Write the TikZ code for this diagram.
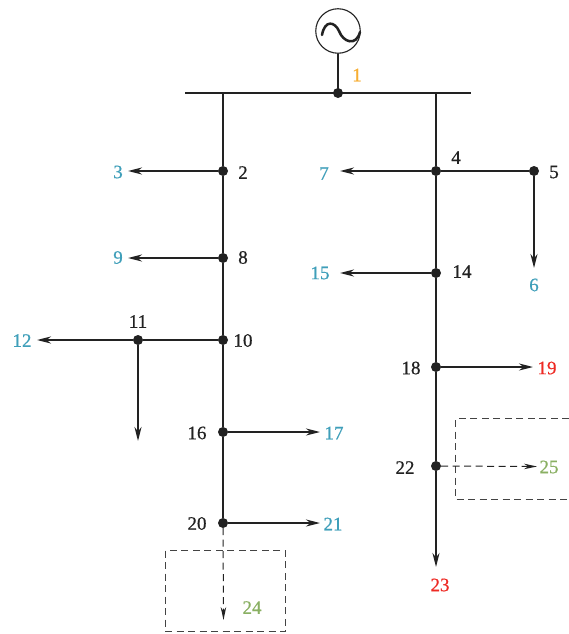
\documentclass[tikz,border=0pt]{standalone}
\usepackage{fontspec}
\setmainfont{Liberation Serif}[RawFeature={embolden=0.5}]
\usetikzlibrary{arrows.meta}
\definecolor{lblue}{HTML}{3F9FBA}
\definecolor{lgreen}{HTML}{8AB063}
\definecolor{lred}{HTML}{EE2A24}
\definecolor{lorange}{HTML}{F7AE33}
\definecolor{ink}{HTML}{222222}
\tikzset{
  x=1pt,y=-1pt,
  busdot/.style={circle,fill=ink,inner sep=0pt,minimum size=10pt},
  line/.style={draw=ink,line width=1.9pt},
  feed/.style={line,-{Stealth[length=14pt,width=7pt]}},
  dashfeed/.style={draw=ink,line width=1pt,dash pattern=on 7pt off 4.5pt,-{Stealth[length=13pt,width=5.5pt]}},
  zone/.style={draw=ink!85,line width=1.1pt,dash pattern=on 7pt off 4.5pt},
  lab/.style={inner sep=0pt,font=\fontsize{19}{21}\selectfont,text=ink},
  blab/.style={lab,text=lblue},
  glab/.style={lab,text=lgreen},
  rlab/.style={lab,text=lred},
  olab/.style={lab,text=lorange},
  gen/.style={circle,draw=ink,line width=1.1pt,minimum size=44.5pt,inner sep=0pt},
}
\begin{document}
\begin{tikzpicture}
\useasboundingbox (0,0) rectangle (569,634);
\fill[white] (0,0) rectangle (569,634);
% zones
\draw[zone] (165.5,550.5) rectangle (285.5,631.5);
\draw[zone] (569,418.5) -- (455.5,418.5) -- (455.5,499.5) -- (569,499.5);
% bus junctions
\node[gen] (G) at (338,31) {};
\coordinate (busL) at (185,93);
\coordinate (busR) at (470.5,93);
\coordinate (t2) at (223,93);
\coordinate (t4) at (436,93);
\node[busdot] (n1) at (338,93) {};
\node[busdot] (n2) at (223,171) {};
\node[busdot] (n4) at (436,171) {};
\node[busdot] (n5) at (534,171) {};
\node[busdot] (n8) at (223,258) {};
\node[busdot] (n14) at (436,273) {};
\node[busdot] (n10) at (223,340) {};
\node[busdot] (n11) at (138,340) {};
\node[busdot] (n16) at (223,432) {};
\node[busdot] (n20) at (223,523) {};
\node[busdot] (n18) at (436,367) {};
\node[busdot] (n22) at (436,466) {};
% free ends
\coordinate (e3) at (128,171);
\coordinate (e7) at (340,171);
\coordinate (e6) at (534,268);
\coordinate (e9) at (128,258);
\coordinate (e15) at (340,273);
\coordinate (e12) at (37,340);
\coordinate (e11) at (138,441);
\coordinate (e17) at (320,432);
\coordinate (e21) at (320,523);
\coordinate (e19) at (533,367);
\coordinate (e25) at (537,466.5);
\coordinate (e24) at (223.5,620);
\coordinate (e23) at (436,567);
% sine
\draw[ink,line width=2.5pt,line cap=round] (322,35) .. controls (325,19) and (335,22) .. (339,31) .. controls (343,42) and (356,47) .. (360,32);
% lines
\draw[line] (G.south) -- (n1.center);
\draw[line] (busL) -- (busR);
\draw[line] (t2) -- (n2);
\draw[line] (n2) -- (n8);
\draw[line] (n8) -- (n10);
\draw[line] (n10) -- (n16);
\draw[line] (n16) -- (n20);
\draw[line] (t4) -- (n4);
\draw[line] (n4) -- (n14);
\draw[line] (n14) -- (n18);
\draw[line] (n18) -- (n22);
\draw[line] (n4) -- (n5);
\draw[line] (n10) -- (n11);
% feeders
\draw[feed] (n2) -- (e3);
\draw[feed] (n4) -- (e7);
\draw[feed] (n5) -- (e6);
\draw[feed] (n8) -- (e9);
\draw[feed] (n14) -- (e15);
\draw[feed] (n11) -- (e12);
\draw[feed] (n11) -- (e11);
\draw[feed] (n16) -- (e17);
\draw[feed] (n20) -- (e21);
\draw[feed] (n18) -- (e19);
\draw[feed] (n22) -- (e23);
\draw[dashfeed] (n22) -- (e25);
\draw[dashfeed] (n20) -- (e24);
% labels
\node[olab] (l1) at (357,75) {1};
\node[lab] (l2) at (243,172.5) {2};
\node[blab] (l3) at (118,172) {3};
\node[lab] (l4) at (456,157.5) {4};
\node[lab] (l5) at (554,172) {5};
\node[blab] (l6) at (534,285) {6};
\node[blab] (l7) at (324,173.5) {7};
\node[lab] (l8) at (243,257.5) {8};
\node[blab] (l9) at (118,257.5) {9};
\node[lab] (l10) at (243,340.5) {10};
\node[lab] (l11) at (138,321.5) {11};
\node[blab] (l12) at (22,340.5) {12};
\node[lab] (l14) at (462,271.5) {14};
\node[blab] (l15) at (320,273) {15};
\node[lab] (l16) at (197,433) {16};
\node[blab] (l17) at (334,433) {17};
\node[lab] (l18) at (411,368) {18};
\node[rlab] (l19) at (547,368) {19};
\node[lab] (l20) at (197,523.5) {20};
\node[blab] (l21) at (333,524) {21};
\node[lab] (l22) at (405,467.5) {22};
\node[rlab] (l23) at (440,585) {23};
\node[glab] (l24) at (252,607.5) {24};
\node[glab] (l25) at (549,467) {25};
\end{tikzpicture}
\end{document}
